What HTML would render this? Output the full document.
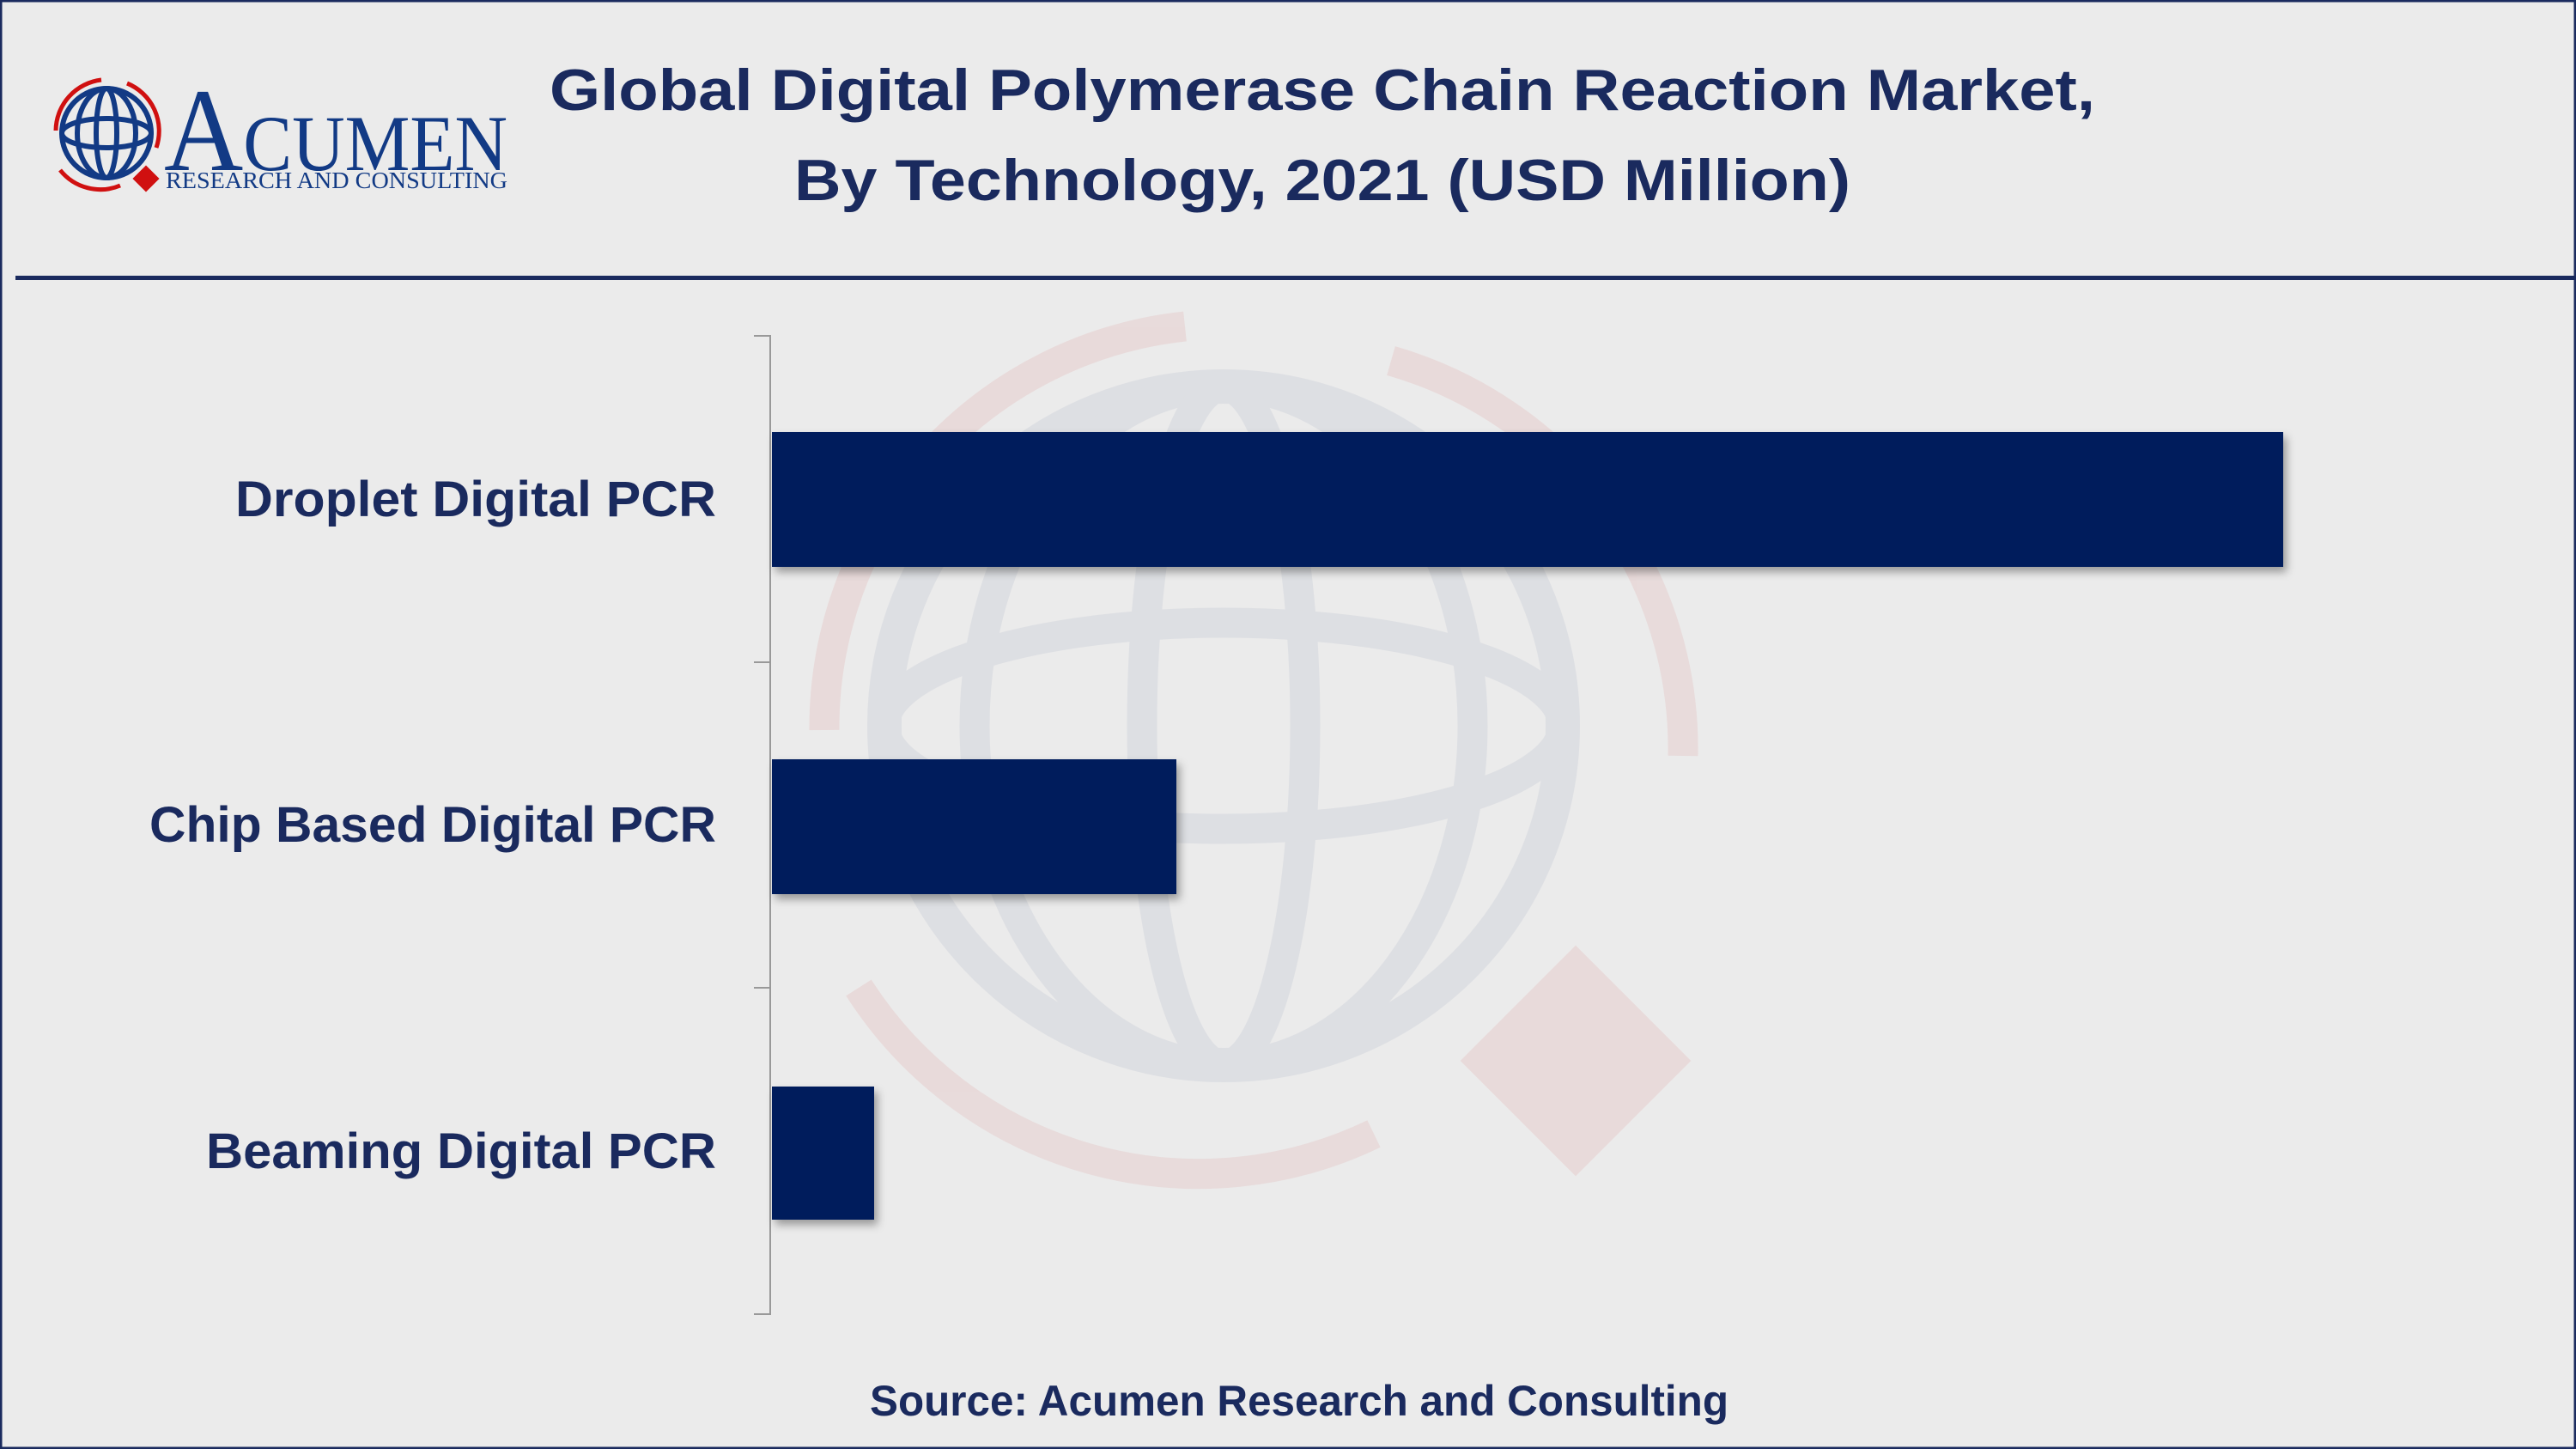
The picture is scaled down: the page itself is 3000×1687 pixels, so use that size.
<!DOCTYPE html>
<html><head><meta charset="utf-8"><style>
html,body{margin:0;padding:0;background:#ebebeb;}
svg{display:block;}
</style></head><body>
<svg width="3000" height="1687" viewBox="0 0 3000 1687" xmlns="http://www.w3.org/2000/svg">
<defs>
<filter id="sh" x="-5%" y="-10%" width="110%" height="130%"><feDropShadow dx="4" dy="6" stdDeviation="5" flood-color="#000" flood-opacity="0.35"/></filter>
</defs>
<rect x="0" y="0" width="3000" height="1687" fill="#ebebeb"/>
<rect x="1" y="1" width="2998" height="1685" fill="none" stroke="#1a2a5e" stroke-width="3"/>
<!-- watermark -->
<g opacity="0.08" fill="none">
<circle cx="1425" cy="845" r="395" stroke="#4a5a8a" stroke-width="40"/>
<ellipse cx="1425" cy="845" rx="290" ry="395" stroke="#4a5a8a" stroke-width="35"/>
<ellipse cx="1425" cy="845" rx="95" ry="395" stroke="#4a5a8a" stroke-width="35"/>
<ellipse cx="1425" cy="845" rx="395" ry="120" stroke="#4a5a8a" stroke-width="35"/>
<path d="M960 850 A470 470 0 0 1 1380 380" stroke="#d02020" stroke-width="35"/>
<path d="M1620 420 A470 470 0 0 1 1960 880" stroke="#d02020" stroke-width="35"/>
<path d="M1000 1150 A470 470 0 0 0 1600 1320" stroke="#d02020" stroke-width="35"/>
<rect x="1740" y="1140" width="190" height="190" fill="#d02020" transform="rotate(45 1835 1235)"/>
</g>
<!-- logo -->
<g fill="none" stroke="#123a85" stroke-width="6">
<circle cx="124" cy="155" r="52"/>
<ellipse cx="124" cy="155" rx="34" ry="52"/>
<ellipse cx="124" cy="155" rx="12" ry="52"/>
<ellipse cx="124" cy="155" rx="52" ry="17"/>
</g>
<g fill="none" stroke="#d01010" stroke-width="5">
<path d="M65 152 A60 60 0 0 1 118 93"/>
<path d="M148 97 A60 60 0 0 1 182 172"/>
<path d="M70 198 A60 60 0 0 0 140 216"/>
</g>
<rect x="159" y="197" width="22" height="22" fill="#d01010" transform="rotate(45 170 208)"/>
<text x="191" y="198" font-family="Liberation Serif, serif" fill="#123a85" textLength="400" lengthAdjust="spacingAndGlyphs"><tspan font-size="138">A</tspan><tspan font-size="92">CUMEN</tspan></text>
<text x="193" y="219" font-family="Liberation Serif, serif" font-size="27" fill="#123a85" textLength="398" lengthAdjust="spacingAndGlyphs">RESEARCH AND CONSULTING</text>
<!-- title -->
<g font-family="Liberation Sans, sans-serif" font-weight="bold" fill="#1a2a5e" text-anchor="middle">
<text x="1540" y="128" font-size="68" textLength="1800" lengthAdjust="spacingAndGlyphs">Global Digital Polymerase Chain Reaction Market,</text>
<text x="1540" y="233" font-size="68" textLength="1230" lengthAdjust="spacingAndGlyphs">By Technology, 2021 (USD Million)</text>
</g>
<rect x="18" y="321" width="2982" height="5" fill="#1a2a5e"/>
<!-- axis -->
<g stroke="#999" stroke-width="2">
<line x1="897" y1="390" x2="897" y2="1531"/>
<line x1="878" y1="391" x2="897" y2="391"/>
<line x1="878" y1="771" x2="897" y2="771"/>
<line x1="878" y1="1150" x2="897" y2="1150"/>
<line x1="878" y1="1530" x2="897" y2="1530"/>
</g>
<g fill="#001f5c" filter="url(#sh)">
<rect x="899" y="503" width="1760" height="157"/>
<rect x="899" y="884" width="471" height="157"/>
<rect x="899" y="1265" width="119" height="155"/>
</g>
<g font-family="Liberation Sans, sans-serif" font-weight="bold" fill="#1a2a5e" font-size="58" text-anchor="end">
<text x="834" y="601" textLength="560" lengthAdjust="spacingAndGlyphs">Droplet Digital PCR</text>
<text x="834" y="980" textLength="660" lengthAdjust="spacingAndGlyphs">Chip Based Digital PCR</text>
<text x="834" y="1360" textLength="594" lengthAdjust="spacingAndGlyphs">Beaming Digital PCR</text>
</g>
<text x="1513" y="1648" font-family="Liberation Sans, sans-serif" font-weight="bold" fill="#1a2a5e" font-size="50" text-anchor="middle" textLength="1000" lengthAdjust="spacingAndGlyphs">Source: Acumen Research and Consulting</text>
</svg>
</body></html>
